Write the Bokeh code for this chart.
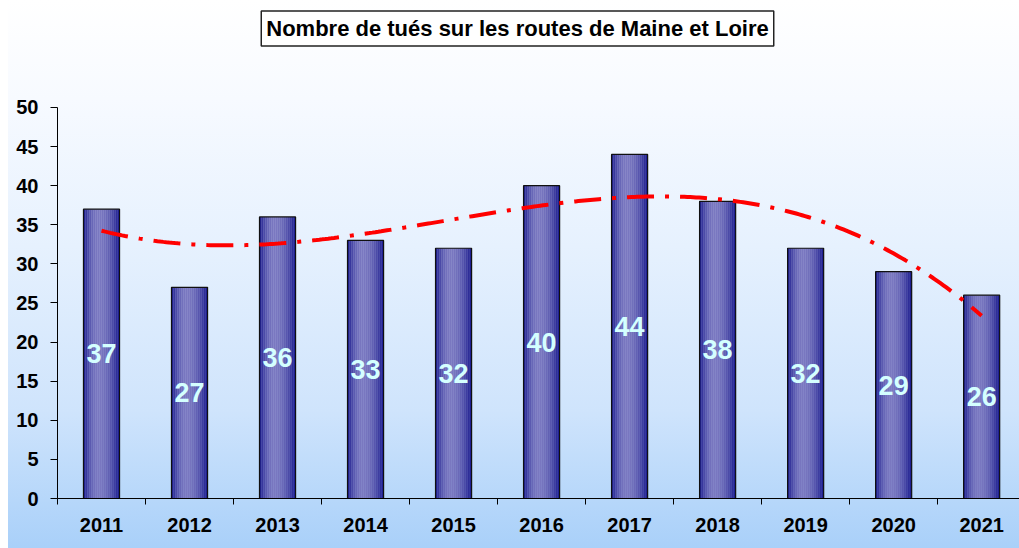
import numpy as np
from bokeh.plotting import figure
from bokeh.models import ColumnDataSource, FixedTicker, Label, Range1d
from bokeh.transform import dodge
from bokeh.core.properties import value
from bokeh.embed import file_html
from bokeh.resources import INLINE

# ---- data ----
years = [2011, 2012, 2013, 2014, 2015, 2016, 2017, 2018, 2019, 2020, 2021]
tues = [37, 27, 36, 33, 32, 40, 44, 38, 32, 29, 26]
y_ticks = [0, 5, 10, 15, 20, 25, 30, 35, 40, 45, 50]
title_text = "Nombre de tués sur les routes de Maine et Loire"

src = ColumnDataSource(dict(
    x=years,
    top=tues,
    mid=[v / 2 for v in tues],
    label=[str(v) for v in tues],
))

FONT = "Liberation Sans"

p = figure(width=1019, height=548, output_backend="svg", toolbar_location=None,
           x_range=Range1d(2010.5, 2021.43), y_range=Range1d(0, 63.68),
           min_border_left=57, min_border_right=0, min_border_top=0,
           min_border_bottom=50)
p.styles = {
    "background-image": "linear-gradient(to bottom, #ffffff 0%, #f7faff 18%, "
                        "#e6f1fe 45%, #cfe4fc 75%, #a9d0f9 100%)",
    "background-repeat": "no-repeat",
    "background-position": "8px 0px",
    "background-size": "calc(100% - 8px) 100%",
    "background-color": "white",
}
p.background_fill_alpha = 0
p.border_fill_alpha = 0
p.outline_line_color = None
p.grid.visible = False

# ---- bars with horizontal gradient ----
bar_w = 0.41
n_strips = 18
dark = np.array([24, 24, 140])
light = np.array([122, 120, 192])
sw = bar_w / n_strips
for i in range(n_strips):
    u = (i + 0.5) / n_strips
    if u < 0.42:
        f = 1 - ((u - 0.42) / 0.42) ** 2
    else:
        f = 1 - ((u - 0.42) / 0.58) ** 2
    f = max(0.0, min(1.0, f)) ** 1.1
    c = dark + f * (light - dark)
    col = "#%02x%02x%02x" % tuple(int(round(v)) for v in c)
    off = -bar_w / 2 + (i + 0.5) * sw
    p.vbar(x=dodge("x", off, range=p.x_range), top="top", width=sw * 1.15,
           source=src, fill_color=col, line_color=None)
p.vbar(x="x", top="top", width=bar_w, source=src, fill_alpha=0,
       line_color="#101010", line_width=1.2)

# ---- value labels ----
p.text(x="x", y="mid", text="label", source=src, text_align="center",
       text_baseline="middle", text_color="#d4ffff",
       text_font=value(FONT), text_font_style="bold", text_font_size="27px")

# ---- polynomial (order 3) trend line ----
t = np.array(years, dtype=float) - 2016
coef = np.polyfit(t, np.array(tues, dtype=float), 3)
xs = np.linspace(years[0], years[-1], 300)
ys = np.polyval(coef, xs - 2016)
p.line(xs, ys, line_color="#ff0000", line_width=4, line_dash="27 11 4 11")

# ---- axes ----
ya = p.yaxis[0]
ya.ticker = FixedTicker(ticks=y_ticks)
ya.bounds = (0, 50)
ya.axis_line_color = "black"
ya.axis_line_width = 1
ya.major_tick_out = 7
ya.major_tick_in = 0
ya.minor_tick_out = 0
ya.minor_tick_in = 0
ya.major_tick_line_color = "black"
ya.major_label_standoff = 12
ya.major_label_text_font = FONT
ya.major_label_text_font_style = "bold"
ya.major_label_text_font_size = "20px"
ya.major_label_text_color = "black"

xa = p.xaxis[0]
xa.ticker = FixedTicker(ticks=years, minor_ticks=[y - 0.5 for y in years])
xa.axis_line_color = "black"
xa.axis_line_width = 1
xa.major_tick_out = 0
xa.major_tick_in = 0
xa.minor_tick_out = 6
xa.minor_tick_in = 0
xa.minor_tick_line_color = "black"
xa.major_label_standoff = 13
xa.major_label_text_font = FONT
xa.major_label_text_font_style = "bold"
xa.major_label_text_font_size = "20px"
xa.major_label_text_color = "black"

# ---- boxed title ----
title = Label(x=460, y=470, x_units="screen", y_units="screen",
              text=title_text, text_align="center", text_baseline="middle",
              text_font=FONT, text_font_style="bold", text_font_size="22px",
              text_color="black", border_line_color="#222222",
              border_line_width=1.5, background_fill_color="white",
              padding=5)
p.add_layout(title)

open("out.html", "w").write(file_html(p, INLINE))
